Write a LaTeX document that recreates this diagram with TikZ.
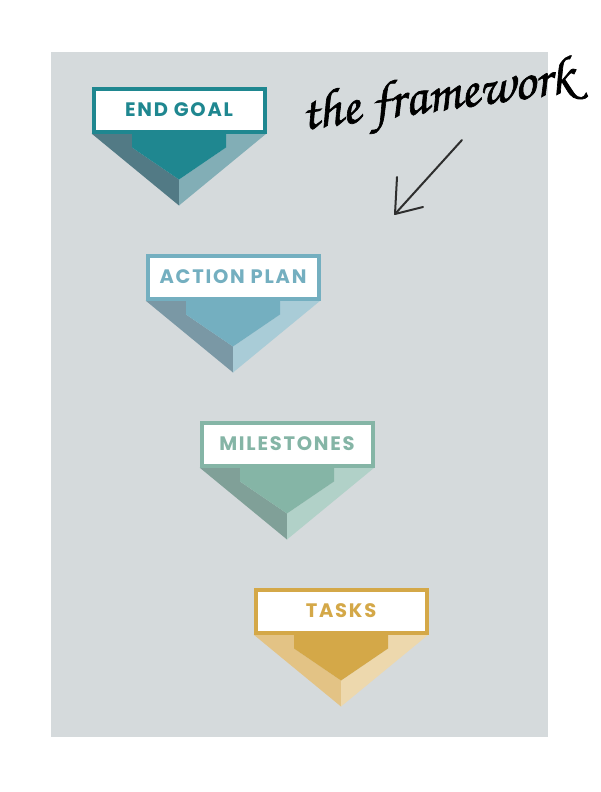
\documentclass[tikz,border=0pt]{standalone}
\usepackage{fontspec}
\newfontfamily\labelfont{Poppins}[LetterSpace=9]
\newfontfamily\handfont{texgyrechorus-mediumitalic.otf}[FakeBold=1.2]
\definecolor{panel}{HTML}{D5DADC}
\definecolor{goalmain}{HTML}{1F8790}
\definecolor{goalleft}{HTML}{527A85}
\definecolor{goalright}{HTML}{82AEB6}
\definecolor{planmain}{HTML}{74AFC0}
\definecolor{planleft}{HTML}{7A98A5}
\definecolor{planright}{HTML}{A9CCD7}
\definecolor{milemain}{HTML}{85B5A6}
\definecolor{mileleft}{HTML}{80A098}
\definecolor{mileright}{HTML}{B1D1C8}
\definecolor{taskmain}{HTML}{D4A848}
\definecolor{taskleft}{HTML}{E3C385}
\definecolor{taskright}{HTML}{EDD8AD}
\definecolor{pencil}{HTML}{2E2E2E}
\tikzset{
  labelbox/.style={draw, fill=white, line width=4pt, minimum width=171pt, minimum height=43pt,
    inner sep=0pt, outer sep=0pt, font=\labelfont\bfseries\fontsize{19.5}{22}\selectfont},
  pencilstroke/.style={draw=pencil, line width=2pt, line cap=round, line join=round}
}
% #1 name, #2 left, #3 top, #4 text, #5 main, #6 left facet, #7 right facet
\newcommand\stagemark[7]{%
  \fill[#6] (#2,#3+47) -- (#2+40.5,#3+47) -- (#2+40.5,#3+61) -- (#2+87.5,#3+93) -- (#2+87.5,#3+119) -- cycle;
  \fill[#7] (#2+175,#3+47) -- (#2+134.5,#3+47) -- (#2+134.5,#3+61) -- (#2+87.5,#3+93) -- (#2+87.5,#3+119) -- cycle;
  \fill[#5] (#2+40.5,#3+45) -- (#2+134.5,#3+45) -- (#2+134.5,#3+61) -- (#2+87.5,#3+93) -- (#2+40.5,#3+61) -- cycle;
  \node[labelbox, draw=#5, text=#5] (#1) at (#2+87.5,#3+23.5) {#4};
}
\begin{document}
\begin{tikzpicture}[x=1pt,y=-1pt]
\useasboundingbox (0,0) rectangle (600,792);
\fill[white] (0,0) rectangle (600,792);
\fill[panel] (50.5,52) rectangle (548.3,737.3);
\stagemark{goal}{91.5}{86.5}{END GOAL}{goalmain}{goalleft}{goalright}
\stagemark{plan}{145.5}{253.5}{ACTION PLAN}{planmain}{planleft}{planright}
\stagemark{mile}{199.5}{420.5}{MILESTONES}{milemain}{mileleft}{mileright}
\stagemark{task}{253.5}{587.5}{TASKS}{taskmain}{taskleft}{taskright}
\node[font=\handfont\fontsize{54}{54}\selectfont, text=black, rotate=8, anchor=base west, inner sep=0pt] (title) at (303,130) {the framework};
\coordinate (shaftstart) at (462,140);
\coordinate (arrowtip) at (395,214);
\coordinate (headup) at (397,177);
\coordinate (headright) at (423,207);
\draw[pencilstroke] (shaftstart) -- (arrowtip);
\draw[pencilstroke] (headup) -- (arrowtip) -- (headright);
\end{tikzpicture}
\end{document}
